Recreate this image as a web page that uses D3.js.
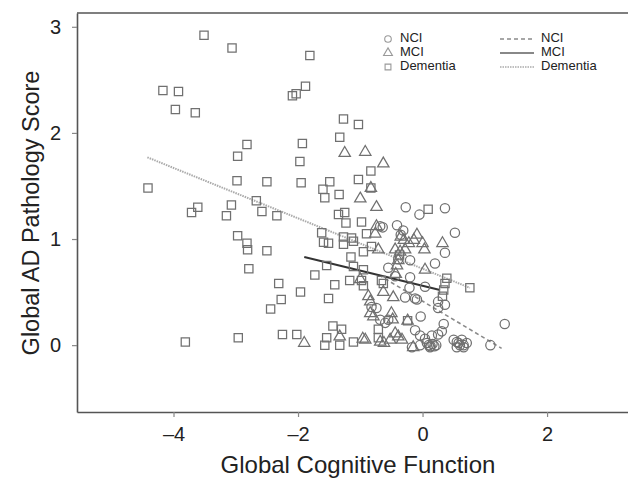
<!DOCTYPE html>
<html>
<head>
<meta charset="utf-8">
<script src="https://cdn.jsdelivr.net/npm/d3@7"></script>
<style>
  body { margin: 0; background: #fff; }
  svg { font-family: "Liberation Sans", Arial, sans-serif; }
</style>
</head>
<body>
<svg id="chart"></svg>
<script>
// values: [cognitive function, AD pathology]
const nciPoints = [
  [-0.27,1.30],[-0.05,1.23],[0.36,1.29],[-0.68,1.12],[-0.64,1.11],[-0.41,1.13],[-0.31,1.08],
  [0.52,1.06],[-0.35,1.04],[0.36,0.87],[-0.39,0.81],[-0.20,0.80],[0.20,0.77],[-0.55,0.73],
  [-0.44,0.65],[-0.20,0.64],[-0.21,0.54],[0.04,0.55],[-0.28,0.45],[-0.12,0.44],[-0.09,0.43],
  [0.25,0.41],[0.36,0.38],[0.25,0.35],[-0.82,0.36],[-0.74,0.35],[-0.68,0.24],[-0.60,0.21],
  [-0.55,0.24],[-0.03,0.27],[0.34,0.20],[1.32,0.20],[-0.12,0.14],[-0.04,0.09],[0.04,0.06],
  [0.15,0.09],[0.25,0.10],[0.31,0.13],[0.07,0.02],[0.10,0.00],[0.13,-0.01],[0.16,0.01],
  [0.19,-0.01],[0.12,-0.02],[0.22,0.00],[0.50,0.05],[0.55,0.03],[0.58,0.02],[0.63,0.05],
  [0.55,-0.02],[0.60,0.00],[0.66,0.00],[0.71,0.02],[0.66,-0.02],[1.09,0.00],[-0.17,-0.02],
  [-0.04,0.00]
];
const mciPoints = [
  [-1.90,0.02],[-1.25,1.81],[-0.92,1.82],[-0.63,1.71],[-1.00,1.38],[-0.83,1.48],[-0.74,1.30],
  [-0.74,1.12],[-0.76,1.05],[-0.35,1.02],[-0.09,1.04],[0.32,0.96],[-0.71,0.90],[-0.30,0.99],
  [-0.22,0.96],[-0.14,0.99],[0.00,0.96],[0.03,0.90],[-0.44,0.90],[-0.36,0.88],[-0.28,0.90],
  [-0.39,0.80],[-0.41,0.75],[0.04,0.71],[-0.43,0.67],[-1.00,0.62],[-0.63,0.50],[-0.47,0.45],
  [-0.87,0.46],[-0.84,0.41],[-0.84,0.30],[-0.50,0.30],[-0.79,0.27],[-0.48,0.24],[-0.24,0.23],
  [-1.33,0.08],[-0.92,0.05],[-0.68,0.03],[-0.52,0.05],[-0.44,0.11],[-0.39,0.08],[-0.33,0.05],
  [-0.62,0.02],[-0.15,-0.02],[-0.96,0.06]
];
const dementiaPoints = [
  [-3.51,2.92],[-3.06,2.80],[-1.81,2.73],[-4.17,2.40],[-3.92,2.39],[-3.97,2.22],[-3.65,2.19],
  [-2.09,2.35],[-2.03,2.37],[-1.88,2.44],[-1.27,2.13],[-1.03,2.08],[-1.33,1.96],[-2.82,1.89],
  [-2.97,1.78],[-1.93,1.90],[-1.97,1.73],[-0.83,1.64],[-4.41,1.48],[-2.98,1.55],[-2.50,1.54],
  [-1.95,1.53],[-1.60,1.47],[-1.49,1.54],[-1.03,1.56],[-1.57,1.39],[-1.34,1.42],[-0.83,1.48],
  [-2.67,1.36],[-3.07,1.32],[-3.61,1.30],[-3.71,1.25],[-3.15,1.22],[-2.58,1.26],[-2.34,1.22],
  [-1.35,1.23],[-1.25,1.25],[-1.23,1.15],[-0.98,1.16],[-2.97,1.03],[-2.82,0.96],[-2.81,0.90],
  [-2.50,0.89],[-2.79,0.72],[-1.62,1.06],[-1.59,0.97],[-1.51,0.96],[-1.27,1.02],[-1.14,1.01],
  [-0.90,1.05],[-1.27,0.95],[-1.11,0.98],[-0.82,0.93],[-0.95,0.88],[-1.15,0.83],[-1.54,0.75],
  [-1.73,0.66],[-1.11,0.74],[-0.95,0.71],[-2.31,0.58],[-1.96,0.50],[-2.27,0.43],[-2.44,0.34],
  [-1.51,0.44],[-1.41,0.57],[-1.17,0.61],[-0.98,0.61],[-0.95,0.56],[-0.66,0.61],[-0.63,0.58],
  [-0.37,0.85],[0.09,1.28],[0.39,0.63],[0.36,0.58],[0.34,0.52],[0.32,0.46],[0.76,0.54],
  [-1.44,0.18],[-1.30,0.15],[-0.71,0.15],[-0.24,0.23],[-3.81,0.03],[-2.96,0.07],[-2.25,0.10],
  [-2.02,0.10],[-1.54,0.07],[-1.57,0.00],[-1.33,0.00],[-1.11,0.03],[-0.71,0.07]
];

// fitted lines per group: start and end [x, y]
const groups = ["NCI", "MCI", "Dementia"];
const fitStart = [[-0.70, 0.66], [-1.90, 0.83], [-4.42, 1.77]];
const fitEnd = [[1.27, -0.03], [0.28, 0.52], [0.76, 0.54]];

const xTicks = [-4, -2, 0, 2];
const yTicks = [0, 1, 2, 3];

const W = 628, H = 481;
const margin = { left: 77, top: 13, bottom: 69 };

const svg = d3.select("#chart").attr("width", W).attr("height", H);

const x = d3.scaleLinear().domain([-5.55, 3.3]).range([margin.left, W]);
const y = d3.scaleLinear().domain([-0.63, 3.13]).range([H - margin.bottom, margin.top]);

const frameColor = "#555";
const fmt = d => (d < 0 ? "\u2013" + Math.abs(d) : d);

// axes
const xAxis = svg.append("g")
    .attr("transform", `translate(0, ${H - margin.bottom})`)
    .call(d3.axisBottom(x).tickValues(xTicks).tickFormat(fmt).tickSize(5).tickSizeOuter(0));
const yAxis = svg.append("g")
    .attr("transform", `translate(${margin.left}, 0)`)
    .call(d3.axisLeft(y).tickValues(yTicks).tickFormat(fmt).tickSize(5).tickSizeOuter(0));

[xAxis, yAxis].forEach(g => {
    g.select(".domain").attr("stroke", frameColor).attr("stroke-width", 1.6);
    g.selectAll(".tick line").attr("stroke", "#888").attr("stroke-width", 1.2);
    g.selectAll(".tick text").attr("fill", "#222").attr("font-size", "20px")
        .attr("font-family", "'Liberation Sans', Arial, sans-serif");
});
xAxis.selectAll(".tick text").attr("dy", "1.05em");
yAxis.selectAll(".tick text").attr("dx", "-0.4em");

// top frame line
svg.append("line")
    .attr("x1", margin.left).attr("x2", W)
    .attr("y1", y.range()[1]).attr("y2", y.range()[1])
    .attr("stroke", frameColor).attr("stroke-width", 1.6);

// axis titles
svg.append("text")
    .attr("x", 358).attr("y", H - 8)
    .attr("text-anchor", "middle")
    .attr("font-size", "24px").attr("fill", "#222")
    .text("Global Cognitive Function");

svg.append("text")
    .attr("transform", "rotate(-90)")
    .attr("x", -213).attr("y", 39)
    .attr("text-anchor", "middle")
    .attr("font-size", "23.5px").attr("fill", "#222")
    .text("Global AD Pathology Score");

// fitted lines
const lineStyle = [
    { stroke: "#8a8a8a", width: 1.6, dash: "4,3" },
    { stroke: "#333", width: 2, dash: null },
    { stroke: "#aaa", width: 2, dash: "1.5,1" }
];
const legendLineStroke = ["#8a8a8a", "#888", "#aaa"];

groups.forEach((g, i) => {
    svg.append("line")
        .attr("x1", x(fitStart[i][0])).attr("y1", y(fitStart[i][1]))
        .attr("x2", x(fitEnd[i][0])).attr("y2", y(fitEnd[i][1]))
        .attr("stroke", lineStyle[i].stroke)
        .attr("stroke-width", lineStyle[i].width)
        .attr("stroke-dasharray", lineStyle[i].dash);
});

// points
const symbols = [d3.symbolCircle, d3.symbolTriangle, d3.symbolSquare];
const sizes = [68, 56, 68];
const pointSets = [nciPoints, mciPoints, dementiaPoints];

pointSets.forEach((pts, i) => {
    svg.append("g").selectAll("path")
        .data(pts)
        .join("path")
        .attr("transform", d => `translate(${x(d[0])}, ${y(d[1])})`)
        .attr("d", d3.symbol().type(symbols[i]).size(sizes[i]))
        .attr("fill", "none")
        .attr("stroke", "#707070")
        .attr("stroke-width", 1.25);
});

// legend
const legY = [39, 53, 67];
const legend = svg.append("g").attr("font-size", "13px").attr("fill", "#222");

groups.forEach((g, i) => {
    legend.append("path")
        .attr("transform", `translate(388, ${legY[i]})`)
        .attr("d", d3.symbol().type(symbols[i]).size(34))
        .attr("fill", "none")
        .attr("stroke", "#999")
        .attr("stroke-width", 1.1);
    legend.append("text")
        .attr("x", 400).attr("y", legY[i])
        .attr("dominant-baseline", "middle")
        .text(g);
    legend.append("line")
        .attr("x1", 500).attr("x2", 534)
        .attr("y1", legY[i]).attr("y2", legY[i])
        .attr("stroke", legendLineStroke[i])
        .attr("stroke-width", i === 1 ? 2 : 1.6)
        .attr("stroke-dasharray", lineStyle[i].dash);
    legend.append("text")
        .attr("x", 541).attr("y", legY[i])
        .attr("dominant-baseline", "middle")
        .text(g);
});
</script>
</body>
</html>
